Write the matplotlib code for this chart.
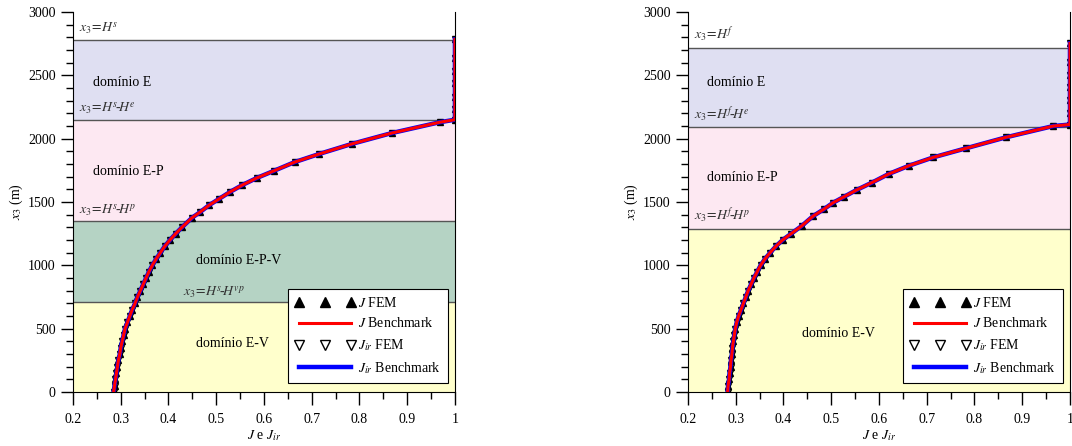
import matplotlib.pyplot as plt
from matplotlib.ticker import MultipleLocator, FuncFormatter

plt.rcParams['font.family'] = 'serif'
plt.rcParams['font.serif'] = ['Liberation Serif', 'DejaVu Serif']
plt.rcParams['mathtext.fontset'] = 'stix'
plt.rcParams['font.size'] = 10

# ---- dados ----
# caso s (esquerda)
x3_s = [0, 50, 100, 150, 200, 250, 300, 350, 400, 450, 500, 550, 600, 650, 700,
        750, 800, 850, 900, 950, 1000, 1050, 1100, 1150, 1200, 1250, 1300,
        1375, 1420, 1475, 1525, 1580, 1635, 1690, 1745, 1815, 1880, 1960,
        2045, 2130, 2150, 2232, 2331, 2437, 2534, 2634, 2784]
J_s = [0.285, 0.287, 0.289, 0.291, 0.293, 0.295, 0.298, 0.300, 0.303, 0.306,
       0.309, 0.314, 0.319, 0.324, 0.330, 0.335, 0.341, 0.347, 0.353, 0.359,
       0.366, 0.374, 0.383, 0.392, 0.403, 0.415, 0.428,
       0.449, 0.466, 0.485, 0.506, 0.529, 0.555, 0.585, 0.620, 0.664, 0.716,
       0.785, 0.868, 0.968, 1.0, 1.0, 1.0, 1.0, 1.0, 1.0, 1.0]
Jir_s = J_s

# caso f (direita)
x3_f = [0, 50, 100, 150, 200, 250, 300, 350, 400, 450, 500, 550, 600, 650, 700,
        750, 800, 850, 900, 950, 1000, 1050, 1100, 1150, 1200, 1250, 1311,
        1389, 1442, 1495, 1542, 1595, 1653, 1721, 1787, 1853, 1924, 2011,
        2100, 2112, 2200, 2305, 2405, 2503, 2608, 2753]
J_f = [0.283, 0.284, 0.286, 0.287, 0.289, 0.290, 0.292, 0.293, 0.295, 0.297,
       0.299, 0.302, 0.306, 0.311, 0.316, 0.321, 0.326, 0.332, 0.338, 0.345,
       0.352, 0.361, 0.372, 0.384, 0.398, 0.416, 0.438,
       0.462, 0.484, 0.504, 0.527, 0.553, 0.585, 0.620, 0.663, 0.714, 0.782,
       0.866, 0.965, 1.0, 1.0, 1.0, 1.0, 1.0, 1.0, 1.0]
Jir_f = J_f

# limites dos dominios
lim_s = [0, 710, 1350, 2150, 2780]
cores_s = ['#ffffcc', '#b5d3c4', '#fde8f2', '#dfdff2']
lim_f = [0, 1290, 2090, 2720]
cores_f = ['#ffffcc', '#fde8f2', '#dfdff2']

fig = plt.figure(figsize=(10.72, 4.46), dpi=100)
ax1 = fig.add_axes([0.0681, 0.121, 0.3563, 0.852])
ax2 = fig.add_axes([0.6418, 0.121, 0.3563, 0.852])


def desenha(ax, x3, J, Jir, lim, cores):
    for i in range(len(cores)):
        ax.axhspan(lim[i], lim[i + 1], color=cores[i], zorder=0, lw=0)
    for h in lim[1:]:
        ax.axhline(h, color='#555555', lw=1, zorder=1)
    ax.plot(J, x3, ls='none', marker='^', color='black', ms=4.5, zorder=2,
            label=r'$J$ FEM')
    ax.plot(J, x3, color='red', lw=2.2, zorder=4, label=r'$J$ Benchmark')
    ax.plot(Jir, x3, ls='none', marker='v', mfc='white', mec='black', ms=4.5,
            zorder=1.5, label=r'$J_{ir}$ FEM')
    ax.plot(Jir, x3, color='blue', lw=3.2, zorder=3, label=r'$J_{ir}$ Benchmark')

    ax.set_xlim(0.2, 1.0)
    ax.set_ylim(0, 3000)
    ax.xaxis.set_major_locator(MultipleLocator(0.1))
    ax.xaxis.set_minor_locator(MultipleLocator(0.05))
    ax.yaxis.set_major_locator(MultipleLocator(500))
    ax.yaxis.set_minor_locator(MultipleLocator(100))
    ax.xaxis.set_major_formatter(FuncFormatter(
        lambda v, p: '1' if abs(v - 1) < 1e-6 else '%.1f' % v))
    ax.tick_params(which='major', length=9, width=1, direction='out')
    ax.tick_params(which='minor', length=5, width=1, direction='out')
    ax.tick_params(axis='x', pad=6)
    ax.spines['top'].set_visible(False)
    ax.set_xlabel(r'$J$ e $J_{ir}$', labelpad=2)
    ax.set_ylabel(r'$x_3$ (m)', labelpad=2)

    handles, labels = ax.get_legend_handles_labels()
    leg = ax.legend(handles, labels, loc='lower right', bbox_to_anchor=(0.982, 0.024),
                    numpoints=3, handlelength=4.4, handletextpad=0.2,
                    labelspacing=0.5, fancybox=False, framealpha=1,
                    edgecolor='black', markerscale=1.65, borderpad=0.5,
                    borderaxespad=0)
    leg.get_frame().set_linewidth(0.8)
    leg.set_zorder(10)


desenha(ax1, x3_s, J_s, Jir_s, lim_s, cores_s)
desenha(ax2, x3_f, J_f, Jir_f, lim_f, cores_f)

# textos esquerda
ax1.text(0.213, 2800, r'$x_3\!=\!H^s$', fontsize=10, va='bottom', color='#333333')
ax1.text(0.242, 2440, 'domínio E', fontsize=10, va='center')
ax1.text(0.213, 2168, r'$x_3\!=\!H^s\!$-$\!H^e$', fontsize=10, va='bottom', color='#333333')
ax1.text(0.242, 1740, 'domínio E-P', fontsize=10, va='center')
ax1.text(0.213, 1368, r'$x_3\!=\!H^s\!$-$\!H^p$', fontsize=10, va='bottom', color='#333333')
ax1.text(0.458, 1035, 'domínio E-P-V', fontsize=10, va='center')
ax1.text(0.43, 722, r'$x_3\!=\!H^s\!$-$\!H^{vp}$', fontsize=10, va='bottom', color='#333333')
ax1.text(0.458, 387, 'domínio E-V', fontsize=10, va='center')

# textos direita
ax2.text(0.213, 2740, r'$x_3\!=\!H^f$', fontsize=10, va='bottom', color='#333333')
ax2.text(0.24, 2440, 'domínio E', fontsize=10, va='center')
ax2.text(0.213, 2108, r'$x_3\!=\!H^f\!$-$\!H^e$', fontsize=10, va='bottom', color='#333333')
ax2.text(0.24, 1697, 'domínio E-P', fontsize=10, va='center')
ax2.text(0.213, 1308, r'$x_3\!=\!H^f\!$-$\!H^p$', fontsize=10, va='bottom', color='#333333')
ax2.text(0.439, 466, 'domínio E-V', fontsize=10, va='center')

plt.savefig('out.png', dpi=100)
